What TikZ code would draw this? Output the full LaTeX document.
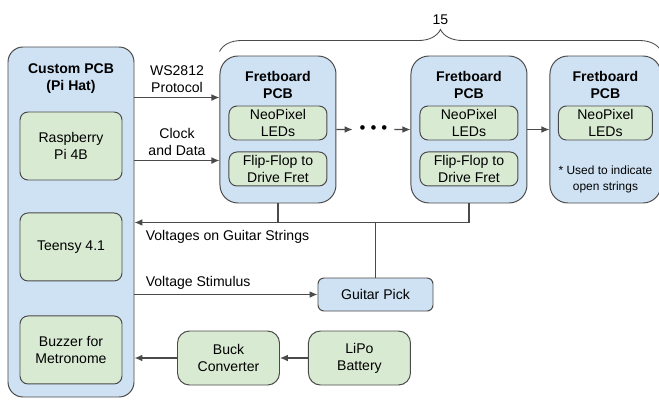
\documentclass[tikz,border=0pt]{standalone}
\usepackage{fontspec}
\setmainfont{Liberation Sans}
\usepackage{tikz}
\usetikzlibrary{arrows.meta, positioning, calc, decorations.pathreplacing}
\definecolor{PCBBlue}{HTML}{CFE2F3}
\definecolor{PartGreen}{HTML}{D9EAD3}
\definecolor{EdgeGray}{HTML}{4A4A4A}

\begin{document}
\begin{tikzpicture}[
    board/.style={rectangle, draw=EdgeGray, fill=PCBBlue, line width=0.7pt,
                  rounded corners=0.45cm, minimum width=2.9cm, minimum height=3.675cm},
    part/.style={rectangle, draw=EdgeGray, fill=PartGreen, line width=0.7pt,
                 rounded corners=0.2cm, align=center, inner sep=1pt},
    chip/.style={part, minimum width=2.55cm, minimum height=1.7cm},
    ledbox/.style={part, minimum width=2.45cm, minimum height=0.85cm},
    supply/.style={part, rounded corners=0.3cm, minimum width=2.55cm, minimum height=1.35cm},
    pickbox/.style={rectangle, draw=EdgeGray, fill=PCBBlue, line width=0.7pt,
                    rounded corners=0.15cm, minimum width=2.875cm, minimum height=0.825cm},
    title/.style={align=center, font=\bfseries, inner sep=0pt},
    note/.style={align=center, font=\fontsize{8.5}{11.3}\selectfont},
    lbl/.style={align=center},
    arrow/.style={-{Latex[length=2mm, width=1.7mm]}, line width=0.9pt, draw=EdgeGray},
    wire/.style={line width=0.9pt, draw=EdgeGray},
    brace/.style={decorate, decoration={brace, amplitude=0.55cm}, line width=0.6pt, draw=EdgeGray}
]
\useasboundingbox (0,0) rectangle (16.475,9.975);

% Custom PCB (Pi Hat)
\node[board, minimum width=3.15cm, minimum height=8.75cm, rounded corners=0.375cm] (pcb) at (1.775,4.425) {};
\node[title, below=0.425cm of pcb.north] (pcbtitle) {Custom PCB\\(Pi Hat)};
\node[chip, below=1.625cm of pcb.north] (rpi) {Raspberry\\Pi 4B};
\node[chip, below=0.8cm of rpi] (teensy) {Teensy 4.1};
\node[chip, below=0.85cm of teensy] (buzzer) {Buzzer for\\Metronome};

% Fretboard PCBs
\node[board, below right=0.225cm and 2.125cm of pcb.north east] (fret1) {};
\node[title, below=0.4cm of fret1.north] (fret1title) {Fretboard\\PCB};
\node[ledbox, below=1.25cm of fret1.north] (led1) {NeoPixel\\LEDs};
\node[ledbox, below=0.275cm of led1] (flop1) {Flip-Flop to\\Drive Fret};

\node[board, right=1.85cm of fret1] (fret2) {};
\node[title, below=0.4cm of fret2.north] (fret2title) {Fretboard\\PCB};
\node[ledbox, below=1.25cm of fret2.north] (led2) {NeoPixel\\LEDs};
\node[ledbox, below=0.275cm of led2] (flop2) {Flip-Flop to\\Drive Fret};

\node[board, minimum width=2.775cm, right=0.55cm of fret2] (fret3) {};
\node[title, below=0.4cm of fret3.north] (fret3title) {Fretboard\\PCB};
\node[ledbox, minimum width=2.35cm, below=1.25cm of fret3.north] (led3) {NeoPixel\\LEDs};
\node[note, below=0.5cm of led3] (openstr) {* Used to indicate\\open strings};

% Count of fretboards
\draw[brace] ([yshift=0.1cm]fret1.north west) -- ([yshift=0.1cm]fret3.north east)
    node[midway, above=0.55cm] (count) {15};

% Chain between fretboards
\node[inner sep=0pt, minimum width=1.025cm, font=\large] (dots) at ($(fret1.east)!0.5!(fret2.west)$)
    {\raisebox{-1.2pt}{\textbullet\hspace{3.6pt}\textbullet\hspace{3.6pt}\textbullet}};

% Guitar pick and power
\node[pickbox] (pick) at (9.3875,2.6125) {Guitar Pick};
\node[supply] (buck) at (5.7125,1.025) {Buck\\Converter};
\node[supply, right=0.7cm of buck] (lipo) {LiPo\\Battery};

% Helper coordinates
\coordinate (ws) at ([yshift=-1.05cm]fret1.north west);
\coordinate (clk) at ([yshift=-2.625cm]fret1.north west);
\coordinate (bus1) at ([yshift=-0.475cm]fret1.south);
\coordinate (bus2) at (fret2.south |- bus1);

% Arrows
\draw[arrow] (pcb.east |- ws) -- (ws) node[midway, above, lbl] {WS2812\\Protocol};
\draw[arrow] (pcb.east |- clk) -- (clk) node[midway, above, lbl] {Clock\\and Data};
\draw[arrow] (fret1.east) -- (dots.west);
\draw[arrow] (dots.east) -- (fret2.west);
\draw[arrow] (fret2.east) -- (fret3.west);
\draw[wire] (fret1.south) -- (bus1);
\draw[arrow] (fret2.south) -- (bus2) -- (pcb.east |- bus1)
    node[at end, below right, xshift=0.15cm, yshift=-0.05cm] {Voltages on Guitar Strings};
\draw[wire] (pick.north) -- (pick.north |- bus1);
\draw[arrow] (pcb.east |- pick.west) -- (pick.west)
    node[at start, above right, xshift=0.15cm] {Voltage Stimulus};
\draw[arrow] (lipo) -- (buck);
\draw[arrow] (buck) -- (pcb.east |- buck);

\end{tikzpicture}
\end{document}
